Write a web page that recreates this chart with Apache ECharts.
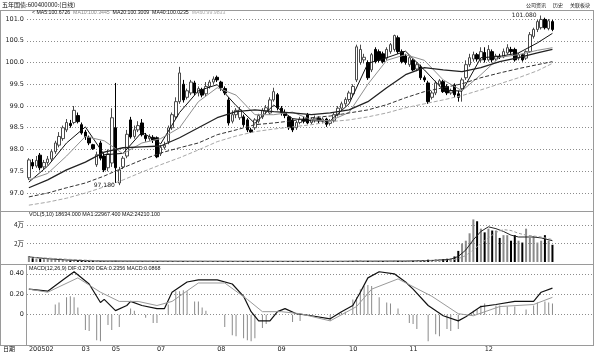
<!DOCTYPE html>
<html>
<head>
<meta charset="utf-8">
<script src="https://cdn.jsdelivr.net/npm/echarts@6/dist/echarts.min.js"></script>
<style>
  html, body { margin: 0; padding: 0; background: #fff; }
  #chart { width: 600px; height: 353px; }
</style>
</head>
<body>
<div id="chart"></div>
<script>
  // daily bars
  const opens = [97.35,97.70,97.62,97.87,97.60,97.70,97.78,97.95,98.10,98.25,
    98.45,98.60,98.62,98.78,98.57,98.40,98.28,98.11,97.65,98.15,
    97.85,97.58,97.69,98.50,97.23,97.60,97.85,98.68,98.30,98.45,
    98.61,98.32,98.25,98.28,98.27,97.90,98.05,98.18,98.50,98.75,
    99.10,99.50,99.20,99.30,99.53,99.30,99.38,99.28,99.45,99.55,
    99.66,99.55,99.40,99.14,98.65,98.80,98.73,98.75,98.68,98.45,
    98.50,98.65,98.75,98.88,98.84,99.14,99.26,98.95,98.85,98.75,
    98.68,98.50,98.62,98.70,98.80,98.62,98.68,98.72,98.65,98.70,
    98.60,98.66,98.80,98.95,99.05,99.15,99.28,99.60,100.00,100.06,
    100.00,99.83,100.30,100.25,100.20,100.10,100.25,100.30,100.57,100.25,
    100.15,99.95,100.05,99.85,99.90,99.65,99.53,99.20,99.30,99.50,
    99.56,99.45,99.30,99.48,99.28,99.40,99.65,99.95,100.08,100.18,
    100.06,100.23,100.06,100.25,100.08,100.15,100.13,100.22,100.30,100.30,
    100.10,100.18,100.10,100.25,100.60,100.76,100.80,100.99,100.78,100.94];
  const closes = [97.76,97.62,97.75,97.58,97.70,97.78,97.95,98.15,98.30,98.50,
    98.62,98.55,98.90,98.64,98.38,98.30,98.15,98.02,97.88,97.80,
    97.53,97.90,98.73,97.58,97.53,97.80,98.35,98.29,98.45,98.55,
    98.34,98.25,98.30,98.22,97.83,98.05,98.10,98.50,98.80,99.10,
    99.76,99.14,99.35,99.55,99.30,99.40,99.25,99.45,99.55,99.62,
    99.60,99.42,99.30,98.61,98.80,98.90,98.91,98.57,98.45,98.40,
    98.68,98.78,98.90,98.96,99.14,99.33,98.96,98.85,98.78,98.50,
    98.45,98.62,98.70,98.65,98.61,98.70,98.72,98.66,98.70,98.58,
    98.66,98.80,98.95,99.05,99.15,99.30,99.45,100.36,100.30,100.12,
    99.65,100.18,100.02,100.05,100.02,100.30,100.41,100.62,100.25,100.02,
    100.00,100.11,99.83,99.95,99.65,99.60,99.10,99.30,99.53,99.58,
    99.33,99.30,99.35,99.26,99.20,99.60,99.95,100.11,100.18,100.08,
    100.25,100.06,100.30,100.06,100.15,100.12,100.25,100.34,100.25,100.06,
    100.18,100.06,100.25,100.64,100.76,100.94,100.99,100.80,100.96,100.76];
  const lows = [97.30,97.55,97.58,97.52,97.55,97.65,97.72,97.90,98.05,98.20,
    98.40,98.50,98.58,98.60,98.34,98.22,98.10,97.99,97.60,97.75,
    97.48,97.50,97.60,97.23,97.18,97.55,97.80,98.25,98.25,98.40,
    98.30,98.18,98.20,98.15,97.80,97.85,98.00,98.12,98.45,98.70,
    99.05,99.08,99.15,99.25,99.25,99.22,99.20,99.22,99.40,99.50,
    99.55,99.35,99.25,98.55,98.60,98.72,98.68,98.52,98.40,98.38,
    98.45,98.60,98.70,98.82,98.80,99.10,98.90,98.78,98.72,98.45,
    98.40,98.45,98.58,98.60,98.58,98.58,98.62,98.60,98.60,98.52,
    98.55,98.62,98.76,98.90,99.00,99.10,99.22,99.55,99.95,99.98,
    99.60,99.78,99.98,100.00,99.98,100.05,100.20,100.25,100.20,99.98,
    99.95,99.90,99.80,99.80,99.60,99.55,99.05,99.15,99.25,99.45,
    99.30,99.25,99.26,99.20,99.10,99.10,99.60,99.90,100.02,100.02,
    100.00,100.00,100.02,100.00,100.04,100.08,100.10,100.18,100.20,100.02,
    100.05,100.02,100.06,100.22,100.55,100.70,100.76,100.76,100.74,100.72];
  const highs = [97.80,97.78,97.85,97.92,97.76,97.85,98.00,98.20,98.40,98.55,
    98.70,98.68,99.00,98.85,98.62,98.45,98.32,98.13,97.95,98.20,
    97.90,98.00,98.95,99.53,97.60,97.85,98.45,98.75,98.55,98.65,
    98.70,98.38,98.35,98.33,98.30,98.10,98.18,98.55,98.85,99.20,
    99.90,99.60,99.40,99.60,99.58,99.45,99.42,99.55,99.60,99.68,
    99.70,99.58,99.45,99.20,98.90,98.95,98.98,98.80,98.72,98.50,
    98.72,98.82,98.95,99.02,99.20,99.42,99.30,99.00,98.92,98.78,
    98.72,98.66,98.75,98.76,98.84,98.74,98.78,98.76,98.74,98.73,
    98.70,98.85,99.00,99.10,99.20,99.35,99.50,100.41,100.41,100.20,
    100.05,100.22,100.35,100.30,100.25,100.35,100.45,100.64,100.62,100.30,
    100.20,100.15,100.08,100.00,99.95,99.70,99.58,99.35,99.58,99.62,
    99.60,99.50,99.40,99.52,99.35,99.65,100.05,100.20,100.25,100.22,
    100.35,100.35,100.40,100.30,100.20,100.20,100.32,100.42,100.36,100.34,
    100.22,100.20,100.28,100.70,100.80,100.98,101.08,101.03,101.00,100.98];
  // volume, in 万
  const volumes = [0.65,0.40,0.35,0.35,0.30,0.30,0.28,0.25,0.22,0.20,
    0.18,0.15,0.15,0.12,0.12,0.12,0.10,0.10,0.08,0.10,
    0.08,0.08,0.12,0.14,0.08,0.07,0.08,0.07,0.06,0.07,
    0.06,0.06,0.07,0.06,0.08,0.06,0.06,0.07,0.08,0.08,
    0.10,0.08,0.07,0.07,0.06,0.06,0.06,0.07,0.06,0.06,
    0.06,0.06,0.06,0.08,0.07,0.06,0.06,0.06,0.07,0.06,
    0.06,0.06,0.06,0.07,0.07,0.08,0.07,0.06,0.06,0.06,
    0.06,0.06,0.06,0.06,0.06,0.06,0.06,0.06,0.06,0.06,
    0.07,0.08,0.08,0.10,0.10,0.12,0.14,0.18,0.16,0.12,
    0.12,0.10,0.10,0.10,0.10,0.12,0.12,0.14,0.12,0.10,
    0.10,0.10,0.10,0.10,0.12,0.15,0.25,0.22,0.30,0.28,
    0.30,0.35,0.40,0.60,1.20,2.00,2.30,3.10,4.60,4.40,
    3.60,3.20,3.60,3.40,3.40,2.60,2.90,2.90,2.30,2.90,
    2.30,2.10,3.60,2.60,2.80,2.10,2.30,2.90,2.30,1.86];

  // moving averages, read every 5 bars
  const maIdx = [0,5,10,15,20,25,30,35,40,45,50,55,60,65,70,75,80,85,90,95,100,105,110,115,120,125,130,135,139];
  const ma5 = [97.25,97.62,98.15,98.52,97.88,97.91,98.40,98.13,98.85,99.35,99.49,99.01,98.60,99.02,98.71,98.66,98.66,99.05,99.98,100.11,100.26,99.83,99.37,99.34,100.11,100.14,100.22,100.45,100.67];
  const ma10 = [97.30,97.45,97.85,98.30,98.20,97.90,98.15,98.25,98.50,99.10,99.42,99.25,98.80,98.80,98.86,98.68,98.66,98.85,99.50,100.05,100.18,100.05,99.60,99.35,99.72,100.12,100.18,100.28,100.34];
  const ma20 = [97.12,97.30,97.53,97.71,97.94,98.04,98.06,98.08,98.27,98.50,98.73,98.87,98.91,98.87,98.84,98.80,98.84,98.91,99.10,99.42,99.72,99.88,99.83,99.79,99.88,100.02,100.11,100.22,100.30];
  const ma40 = [96.91,97.00,97.12,97.23,97.39,97.58,97.76,97.92,98.04,98.15,98.34,98.45,98.57,98.61,98.66,98.73,98.77,98.84,98.91,99.03,99.19,99.33,99.42,99.51,99.65,99.76,99.86,99.95,100.02];
  const ma60 = [96.72,96.79,96.88,97.00,97.14,97.30,97.48,97.65,97.81,97.99,98.18,98.31,98.41,98.47,98.52,98.57,98.64,98.68,98.75,98.84,98.96,99.05,99.14,99.24,99.37,99.51,99.65,99.81,99.98];

  const volMaIdx = [0,5,10,15,20,40,60,80,100,108,112,114,116,118,120,122,124,126,128,130,132,134,136,139];
  const volMa5 = [0.55,0.35,0.22,0.14,0.10,0.08,0.07,0.07,0.10,0.18,0.30,0.60,1.30,2.40,3.30,3.80,3.60,3.30,2.90,2.70,2.70,2.70,2.60,2.30];
  const volMa10 = [0.50,0.42,0.30,0.20,0.12,0.08,0.07,0.07,0.09,0.14,0.20,0.35,0.70,1.30,2.00,2.60,3.20,3.50,3.40,3.10,2.90,2.80,2.70,2.42];

  const difIdx = [0,5,9,12,16,19,20,23,26,27,30,34,36,38,42,45,50,54,57,59,61,64,66,68,71,75,80,83,86,88,90,93,97,100,102,106,110,114,116,120,124,129,134,136,139];
  const dif = [0.25,0.23,0.34,0.42,0.30,0.12,0.15,0.04,0.09,0.13,0.09,0.06,0.06,0.22,0.32,0.34,0.34,0.30,0.18,0.03,-0.06,-0.06,0.03,0.06,0.01,-0.01,-0.04,0.03,0.09,0.22,0.36,0.42,0.40,0.32,0.25,0.09,-0.01,-0.06,-0.02,0.08,0.10,0.13,0.13,0.22,0.26];
  const deaIdx = [0,5,13,19,24,29,34,38,45,52,58,62,67,72,80,87,91,98,107,114,118,125,134,139];
  const dea = [0.25,0.22,0.36,0.22,0.13,0.13,0.09,0.13,0.31,0.31,0.15,0.03,0.03,0.01,-0.06,0.08,0.25,0.35,0.18,0.01,-0.01,0.08,0.10,0.17];
  const histIdx = [7,8,10,11,12,13,15,16,18,19,21,22,24,27,28,31,33,34,37,39,40,41,42,44,45,46,47,52,54,55,57,58,59,60,62,63,70,72,80,83,84,86,87,88,89,90,91,93,95,96,98,101,102,103,106,108,109,111,112,114,118,119,120,121,124,125,127,129,132,134,135,137,138,139];
  const hist = [0.10,0.12,0.17,0.18,0.17,0.07,-0.15,-0.16,-0.25,-0.26,-0.10,-0.15,-0.12,0.06,0.04,-0.03,-0.08,-0.08,0.10,0.23,0.23,0.24,0.23,0.13,0.13,0.07,0.04,-0.12,-0.20,-0.21,-0.23,-0.25,-0.26,-0.23,-0.13,-0.09,-0.07,-0.06,-0.06,0.02,0.03,0.15,0.17,0.25,0.28,0.29,0.28,0.17,0.12,0.11,0.06,-0.08,-0.09,-0.14,-0.26,-0.19,-0.21,-0.14,-0.16,-0.14,0.04,0.05,0.09,0.11,0.09,0.09,0.08,0.08,0.05,0.09,0.12,0.13,0.12,0.11];

  const monthIdx = [0,14,22,34,50,66,85,101,121];
  const monthLabels = ['200502','03','05','07','08','09','10','11','12'];
  const priceTicks = [97,97.5,98,98.5,99,99.5,100,100.5,101];
  const volTicks = [2,4];
  const macdTicks = [0,0.2,0.4];

  const SLOTS = 150;
  const n = opens.length;
  const cats = [];
  for (let i = 0; i < SLOTS; i++) cats.push('');
  monthIdx.forEach((k, i) => { cats[k] = monthLabels[i]; });

  function sparse(idx, vals) {
    const a = new Array(n).fill('-');
    idx.forEach((k, i) => { a[k] = vals[i]; });
    return a;
  }

  const kData = opens.map((o, i) => [o, closes[i], lows[i], highs[i]]);
  const volData = volumes.map((v, i) => ({
    value: v,
    itemStyle: {color: closes[i] < opens[i] ? '#000' : '#8a8a8a'}
  }));
  let lowAt = 0;
  lows.forEach((v, i) => { if (v < lows[lowAt]) lowAt = i; });
  let highAt = 0;
  highs.forEach((v, i) => { if (v > highs[highAt]) highAt = i; });

  const cjk = '"Noto Sans CJK SC", "DejaVu Sans", sans-serif';
  const small = {fontSize: 6.5, fontFamily: 'DejaVu Sans', color: '#222'};
  const dotted = {show: true, lineStyle: {color: '#8c8c8c', type: [1, 2], width: 1}};

  function xAxisFor(i) {
    return {
      type: 'category', gridIndex: i, data: cats, boundaryGap: true,
      axisLine: {show: false}, axisTick: {show: false}, splitLine: {show: false},
      axisLabel: Object.assign({show: i === 2, interval: 0, align: 'left', margin: 3}, small)
    };
  }

  function lineSeries(name, data, color, axis, dash, width) {
    return {
      name, type: 'line', xAxisIndex: axis, yAxisIndex: axis, data,
      connectNulls: true, symbol: 'none', silent: true,
      lineStyle: {color, width: width || 1, type: dash || 'solid'}
    };
  }

  const tiny = '5.4px "Liberation Sans"';
  const cn = '6px "Noto Sans CJK SC"';
  const gText = (x, y, text, fill, font) => ({
    type: 'text', x, y, silent: true,
    style: {text, fill: fill || '#111', font: font || tiny, verticalAlign: 'middle'}
  });
  const gLine = (x1, y1, x2, y2, c) => ({
    type: 'line', silent: true, shape: {x1, y1, x2, y2},
    style: {stroke: c || '#9a9a9a', lineWidth: 1}
  });

  const chart = echarts.init(document.getElementById('chart'));
  chart.setOption({
    animation: false,
    backgroundColor: '#fff',
    grid: [
      {left: 27, right: 8, top: 12, height: 198},
      {left: 27, right: 8, top: 212, height: 50},
      {left: 27, right: 8, top: 266, height: 79}
    ],
    xAxis: [xAxisFor(0), xAxisFor(1), xAxisFor(2)],
    yAxis: [
      {
        gridIndex: 0, min: 96.609, max: 101.161, scale: true,
        axisLine: {show: false}, axisTick: {show: false, customValues: priceTicks},
        axisLabel: Object.assign({customValues: priceTicks, margin: 3, formatter: v => v.toFixed(1)}, small),
        splitLine: dotted
      },
      {
        gridIndex: 1, min: 0, max: 5.4,
        axisLine: {show: false}, axisTick: {show: false, customValues: volTicks},
        axisLabel: Object.assign({customValues: volTicks, margin: 3, formatter: v => v + '万'}, small, {fontFamily: cjk}),
        splitLine: dotted
      },
      {
        gridIndex: 2, min: -0.276, max: 0.476,
        axisLine: {show: false}, axisTick: {show: false, customValues: macdTicks},
        axisLabel: Object.assign({customValues: macdTicks, margin: 3, formatter: v => v === 0 ? '0' : v.toFixed(2)}, small),
        splitLine: dotted
      }
    ],
    series: [
      {
        type: 'candlestick', xAxisIndex: 0, yAxisIndex: 0, data: kData, barWidth: 3,
        itemStyle: {color: '#fff', color0: '#000', borderColor: '#4a4a4a', borderColor0: '#000', borderWidth: 1},
        markPoint: {
          symbol: 'circle', symbolSize: 1, itemStyle: {color: 'rgba(0,0,0,0)'},
          label: Object.assign({show: true, position: 'left', distance: 4, formatter: p => p.value}, small, {fontSize: 6}),
          data: [
            {coord: [highAt, highs[highAt]], value: highs[highAt].toFixed(3)},
            {coord: [lowAt, lows[lowAt]], value: lows[lowAt].toFixed(3)}
          ]
        }
      },
      lineSeries('MA5', sparse(maIdx, ma5), '#111', 0),
      lineSeries('MA10', sparse(maIdx, ma10), '#8f8f8f', 0),
      lineSeries('MA20', sparse(maIdx, ma20), '#222', 0, 'solid', 1.3),
      lineSeries('MA40', sparse(maIdx, ma40), '#333', 0, [4, 2]),
      lineSeries('MA60', sparse(maIdx, ma60), '#a8a8a8', 0, [4, 2]),
      {type: 'bar', xAxisIndex: 1, yAxisIndex: 1, data: volData, barWidth: 2, silent: true},
      lineSeries('VMA5', sparse(volMaIdx, volMa5), '#222', 1),
      lineSeries('VMA10', sparse(volMaIdx, volMa10), '#9a9a9a', 1, [3, 2]),
      {
        type: 'bar', xAxisIndex: 2, yAxisIndex: 2, data: sparse(histIdx, hist), barWidth: 1, silent: true,
        itemStyle: {color: '#8a8a8a'}
      },
      lineSeries('DIF', sparse(difIdx, dif), '#111', 2, 'solid', 1.2),
      lineSeries('DEA', sparse(deaIdx, dea), '#9a9a9a', 2)
    ],
    graphic: [
      gLine(0, 10.5, 594, 10.5),
      gLine(593.5, 10, 593.5, 346),
      gLine(0.5, 10, 0.5, 346),
      gLine(0, 211.5, 594, 211.5),
      gLine(0, 264.5, 594, 264.5),
      gLine(0, 345.5, 594, 345.5),
      gLine(26.5, 264, 26.5, 346),
      gText(2, 5, '五年国债:600400000:(日线)', '#111', cn),
      gText(526, 5, '公司资讯', '#111', '5px "Noto Sans CJK SC"'),
      gText(553, 5, '历史', '#111', '5px "Noto Sans CJK SC"'),
      gText(570, 5, '关联板块', '#111', '5px "Noto Sans CJK SC"'),
      {
        type: 'text', x: 32, y: 13, silent: true,
        style: {
          text: '{k|< MA5:100.6726}  {g|MA10:100.3445}  {k|MA20:100.3009}  {k|MA40:100.0235}  {l|MA60:99.9833}',
          font: '5.2px "Liberation Sans"', verticalAlign: 'middle',
          rich: {k: {fill: '#111'}, g: {fill: '#888'}, l: {fill: '#aaa'}}
        }
      },
      gText(29, 215, 'VOL(5,10) 18634.000 MA1:22967.400 MA2:24210.100', '#111'),
      gText(29, 269, 'MACD(12,26,9) DIF:0.2790 DEA:0.2356 MACD:0.0868', '#111'),
      gText(3, 349, '日期', '#111', cn)
    ]
  });
</script>
</body>
</html>
